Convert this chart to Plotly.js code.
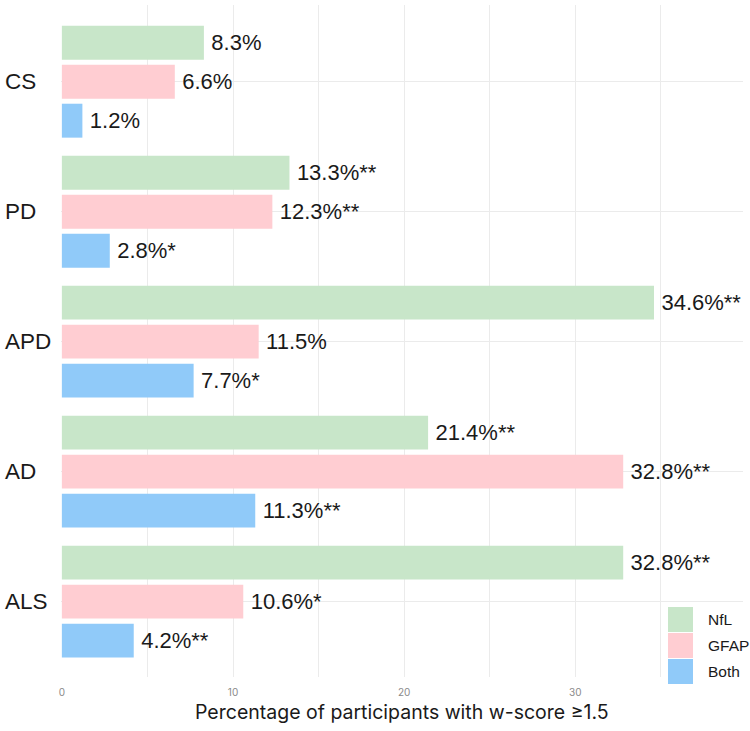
<!DOCTYPE html>
<html>
<head>
<meta charset="utf-8">
<script src="https://cdn.plot.ly/plotly-3.0.1.min.js"></script>
<style>
  html, body { margin: 0; padding: 0; background: #ffffff; }
  #chart { width: 750px; height: 731px; }
</style>
</head>
<body>
<div id="chart"></div>
<script>
// Groups, top to bottom
const groups = ['CS', 'PD', 'APD', 'AD', 'ALS'];

// Percentage of participants with w-score >= 1.5
const nflValues  = [8.3, 13.3, 34.6, 21.4, 32.8];
const gfapValues = [6.6, 12.3, 11.5, 32.8, 10.6];
const bothValues = [1.2, 2.8, 7.7, 11.3, 4.2];

// Significance marks appended to each label
const nflMarks  = ['', '**', '**', '**', '**'];
const gfapMarks = ['', '**', '', '**', '*'];
const bothMarks = ['', '*', '*', '**', '**'];

const seriesNames = ['NfL', 'GFAP', 'Both'];
const seriesColors = ['#c8e6c9', '#ffcdd2', '#90caf9'];

const W = 750, H = 731;
const M = { l: 61, r: 7, t: 5, b: 54 };
const PW = W - M.l - M.r, PH = H - M.t - M.b;
const px = x => (x - M.l) / PW;
const py = y => (H - M.b - y) / PH;

const labelFont = { family: 'Liberation Sans, Arial, sans-serif', size: 22, color: '#1a1a1a' };

function makeTrace(name, values, marks, color) {
  return {
    type: 'bar',
    orientation: 'h',
    name: name,
    y: groups,
    x: values,
    text: values.map((v, i) => '\u2009' + v.toFixed(1) + '%' + marks[i]),
    textposition: 'outside',
    textfont: labelFont,
    constraintext: 'none',
    cliponaxis: false,
    marker: { color: color, line: { width: 0 } },
    hoverinfo: 'skip',
    showlegend: false
  };
}

const data = [
  makeTrace(seriesNames[0], nflValues, nflMarks, seriesColors[0]),
  makeTrace(seriesNames[1], gfapValues, gfapMarks, seriesColors[1]),
  makeTrace(seriesNames[2], bothValues, bothMarks, seriesColors[2])
];

// Left-aligned group names
const annotations = groups.map(g => ({
  xref: 'paper', yref: 'y', x: 0, y: g,
  xshift: -58, xanchor: 'left', yanchor: 'middle',
  text: g, showarrow: false,
  font: { family: 'Liberation Sans, Arial, sans-serif', size: 22.5, color: '#1a1a1a' }
}));

// Legend drawn inside the lower-right corner of the panel
const shapes = [];
const swatchTops = [607, 633, 659];
seriesNames.forEach((name, i) => {
  const top = swatchTops[i];
  shapes.push({
    type: 'rect', xref: 'paper', yref: 'paper', layer: 'above',
    x0: px(668), x1: px(693), y0: py(top + 25), y1: py(top),
    fillcolor: seriesColors[i], line: { width: 0 }
  });
  annotations.push({
    xref: 'paper', yref: 'paper', x: px(706), y: py(top + 12.5),
    xanchor: 'left', yanchor: 'middle', showarrow: false,
    text: name,
    font: { family: 'Liberation Sans, Arial, sans-serif', size: 15.5, color: '#1a1a1a' }
  });
});

// Axis title
annotations.push({
  xref: 'paper', yref: 'paper', x: 0.5, y: py(712),
  xanchor: 'center', yanchor: 'middle', showarrow: false,
  text: 'Percentage of participants with w-score \u22651.5',
  font: { family: 'Inter, Liberation Sans, sans-serif', size: 19.5, color: '#1a1a1a' }
});

const layout = {
  width: W, height: H,
  margin: M,
  paper_bgcolor: '#ffffff',
  plot_bgcolor: '#ffffff',
  barmode: 'group',
  bargap: 0.1,
  bargroupgap: 0.13,
  showlegend: false,
  xaxis: {
    range: [-0.05, 39.8],
    tickvals: [0, 10, 20, 30],
    ticktext: ['0', '10', '20', '30'],
    showgrid: true, gridcolor: '#ebebeb', gridwidth: 1,
    minor: { dtick: 5, showgrid: true, gridcolor: '#ebebeb', gridwidth: 1 },
    zeroline: false, showline: false, ticks: '',
    tickfont: { family: 'Inter, Liberation Sans, sans-serif', size: 10, color: '#8a8a8a' },
    ticklabelstandoff: 8
  },
  yaxis: {
    type: 'category',
    categoryorder: 'array',
    categoryarray: groups,
    range: [4.58, -0.59],
    showgrid: true, gridcolor: '#ebebeb', gridwidth: 1,
    zeroline: false, showline: false, ticks: '',
    showticklabels: false
  },
  annotations: annotations,
  shapes: shapes
};

Plotly.newPlot('chart', data, layout, { staticPlot: true, displayModeBar: false });
</script>
</body>
</html>
